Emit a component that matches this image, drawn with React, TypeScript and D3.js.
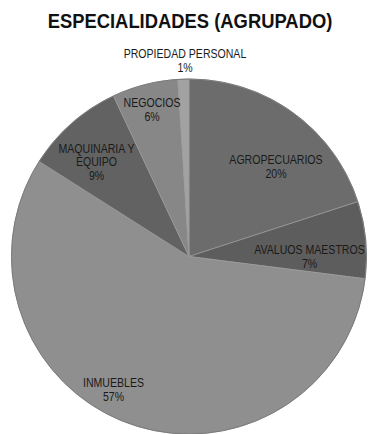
import React from "react";
import * as d3 from "d3";

const categories = [
  "AGROPECUARIOS",
  "AVALUOS MAESTROS",
  "INMUEBLES",
  "MAQUINARIA Y EQUIPO",
  "NEGOCIOS",
  "PROPIEDAD PERSONAL",
];
const values = [20, 7, 57, 9, 6, 1];
const labelLines = [
  ["AGROPECUARIOS", "20%"],
  ["AVALUOS MAESTROS", "7%"],
  ["INMUEBLES", "57%"],
  ["MAQUINARIA Y", "EQUIPO", "9%"],
  ["NEGOCIOS", "6%"],
  ["PROPIEDAD PERSONAL", "1%"],
];
const colors = ["#6c6c6c", "#5d5d5d", "#8f8f8f", "#626262", "#878787", "#a2a2a2"];

const W = 369;
const H = 434;
const cx = 189;
const cy = 256.5;
const R = 177.5;
const FONT = "'Liberation Sans', Arial, sans-serif";
const NARROW = 0.88;

// label anchor: centre x and baseline of the first line
const labelPos: [number, number][] = [
  [276, 164],
  [309.5, 254],
  [113.5, 387],
  [96.5, 152.5],
  [152, 107],
  [185, 58],
];

export default function App() {
  const pie = d3.pie<number>().sort(null).value((d) => d)(values);
  const arc = d3.arc<d3.PieArcDatum<number>>().innerRadius(0).outerRadius(R);
  return (
    <svg
      width={W}
      height={H}
      style={{ position: "absolute", left: 0, top: 0, background: "#fff" }}
    >
      <g transform={`translate(190,28) scale(0.92,1)`}>
        <text
          x={0}
          y={0}
          textAnchor="middle"
          fontFamily={FONT}
          fontWeight="bold"
          fontSize={20}
          fill="#111"
        >
          ESPECIALIDADES (AGRUPADO)
        </text>
      </g>
      <g transform={`translate(${cx},${cy})`}>
        {pie.map((p, i) => (
          <path
            key={categories[i]}
            d={arc(p) || ""}
            fill={colors[i]}
            stroke="#999"
            strokeWidth={0.7}
            strokeLinejoin="round"
          />
        ))}
        <circle r={R} fill="none" stroke="#7a7a7a" strokeWidth={1} />
      </g>
      {labelLines.map((lines, i) => {
        const [lx, ly] = labelPos[i];
        const lh = 13.7;
        return (
          <g key={categories[i]} transform={`translate(${lx},${ly}) scale(${NARROW},1)`}>
            <text textAnchor="middle" fontFamily={FONT} fontSize={12} fill="#1a1a1a">
              {lines.map((t, j) => (
                <tspan key={j} x={0} y={j * lh}>
                  {t}
                </tspan>
              ))}
            </text>
          </g>
        );
      })}
    </svg>
  );
}
